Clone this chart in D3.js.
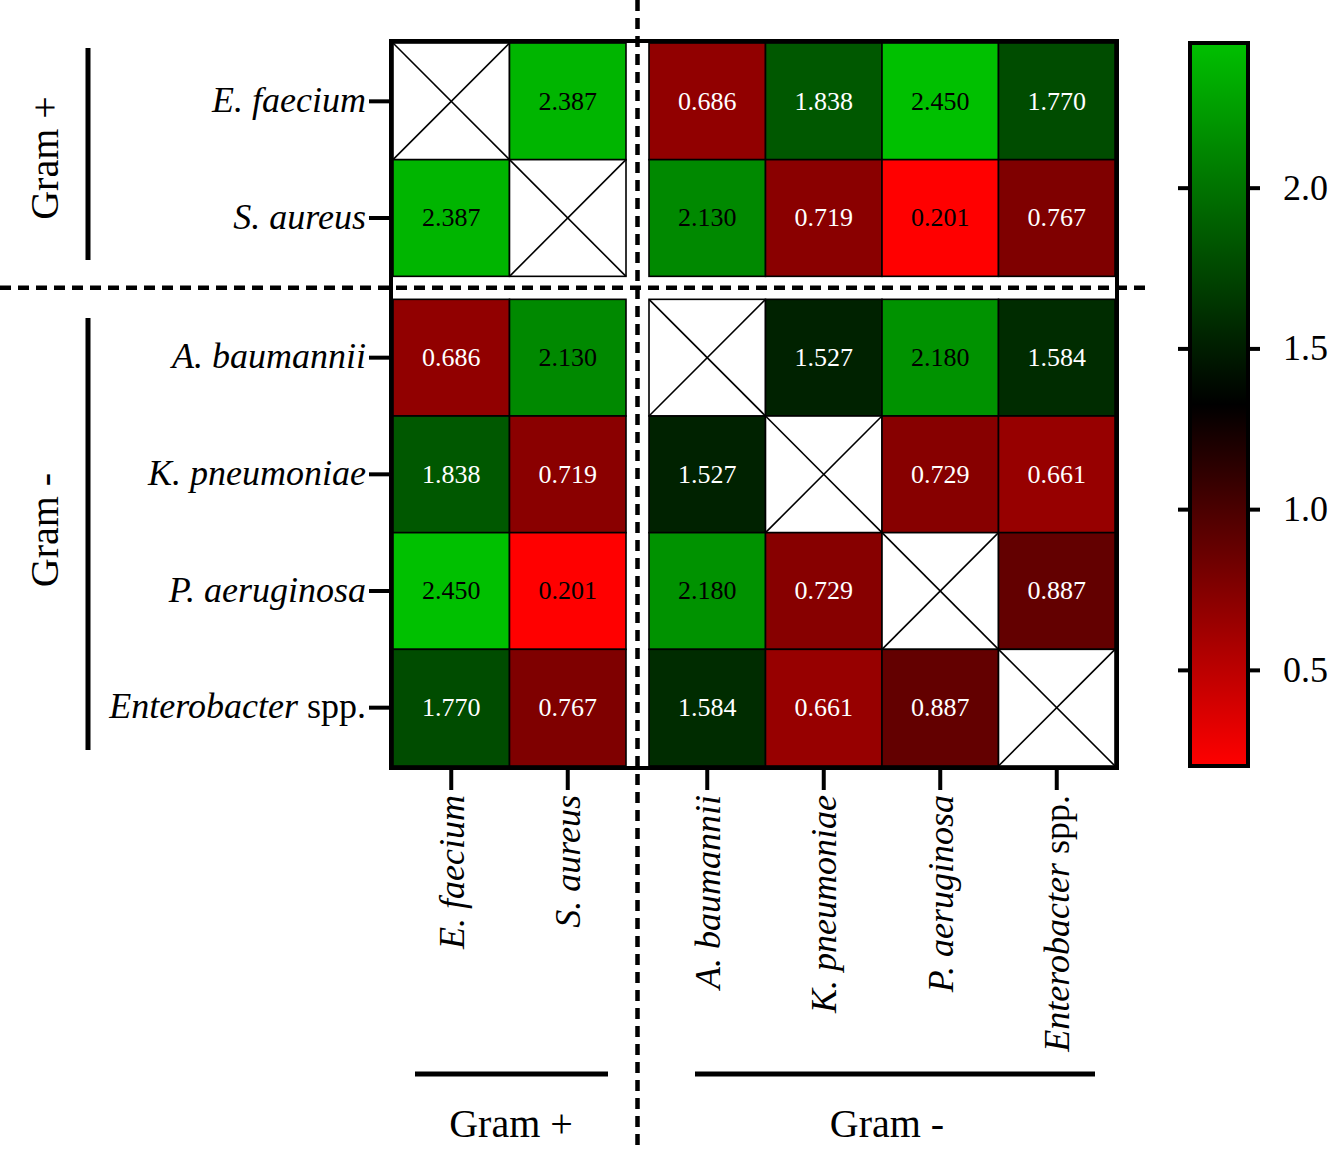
<!DOCTYPE html>
<html><head><meta charset="utf-8">
<script src="https://cdn.jsdelivr.net/npm/d3@7/dist/d3.min.js"></script>
<style>body{margin:0;background:#fff}</style>
</head><body><svg id="c" width="1332" height="1151"></svg>
<script>
// ---------- data ----------
const gramPositive = ["E. faecium", "S. aureus"];
const gramNegative = ["A. baumannii", "K. pneumoniae", "P. aeruginosa", "Enterobacter spp."];
const species = gramPositive.concat(gramNegative);
// FI values (row species x column species), null on the diagonal
const rowEfaecium   = [null, 2.387, 0.686, 1.838, 2.450, 1.770];
const rowSaureus    = [2.387, null, 2.130, 0.719, 0.201, 0.767];
const rowAbaumannii = [0.686, 2.130, null, 1.527, 2.180, 1.584];
const rowKpneumo    = [1.838, 0.719, 1.527, null, 0.729, 0.661];
const rowPaerug     = [2.450, 0.201, 2.180, 0.729, null, 0.887];
const rowEntero     = [1.770, 0.767, 1.584, 0.661, 0.887, null];
const matrix = [rowEfaecium, rowSaureus, rowAbaumannii, rowKpneumo, rowPaerug, rowEntero];
const colorTicks = [0.5, 1.0, 1.5, 2.0];
const colorMin = 0.201, colorMax = 2.450;
const groupNames = ["Gram +", "Gram -"];

// ---------- layout ----------
const svg = d3.select("#c");
const FONT = "'Liberation Serif','Times New Roman',Times,serif";
const L = 393, R = 1115, T = 43, B = 766, GAP = 23;
const cw = (R - L - GAP) / 6;
const ch = (B - T - GAP) / 6;
const xPos = d3.scaleBand().domain(gramPositive).range([L, L + 2 * cw]);
const xNeg = d3.scaleBand().domain(gramNegative).range([L + 2 * cw + GAP, R]);
const yPos = d3.scaleBand().domain(gramPositive).range([T, T + 2 * ch]);
const yNeg = d3.scaleBand().domain(gramNegative).range([T + 2 * ch + GAP, B]);
const xOf = s => gramPositive.includes(s) ? xPos(s) : xNeg(s);
const yOf = s => gramPositive.includes(s) ? yPos(s) : yNeg(s);

const mid = (colorMin + colorMax) / 2;
const color = d3.scaleLinear().domain([colorMin, mid, colorMax])
  .range(["#ff0000", "#000000", "#00c000"]).clamp(true);

// ---------- cells ----------
const cells = [];
species.forEach((r, i) => species.forEach((c, j) => cells.push({ r, c, v: matrix[i][j] })));

const gCells = svg.append("g");
const cg = gCells.selectAll("g.cell").data(cells).join("g").attr("class", "cell")
  .attr("transform", d => `translate(${xOf(d.c)},${yOf(d.r)})`);
cg.append("rect").attr("width", cw).attr("height", ch)
  .attr("fill", d => d.v == null ? "#fff" : color(d.v))
  .attr("stroke", "#000").attr("stroke-width", 1.6);
cg.filter(d => d.v == null).each(function () {
  const g = d3.select(this);
  g.append("line").attr("x1", 0).attr("y1", 0).attr("x2", cw).attr("y2", ch).attr("stroke", "#000").attr("stroke-width", 1.6);
  g.append("line").attr("x1", cw).attr("y1", 0).attr("x2", 0).attr("y2", ch).attr("stroke", "#000").attr("stroke-width", 1.6);
});
cg.filter(d => d.v != null).append("text")
  .attr("x", cw / 2).attr("y", ch / 2).attr("dy", "0.32em")
  .attr("text-anchor", "middle").attr("font-family", FONT).attr("font-size", 26)
  .attr("fill", d => d3.lab(color(d.v)).l > 45 ? "#000" : "#fff")
  .text(d => d3.format(".3f")(d.v));

// frame
svg.append("rect").attr("x", L - 2).attr("y", T - 2).attr("width", R - L + 4).attr("height", B - T + 4)
  .attr("fill", "none").attr("stroke", "#000").attr("stroke-width", 4);

// ---------- label helper ----------
function speciesLabel(textSel) {
  textSel.each(function (d) {
    const t = d3.select(this);
    t.text(null).attr("font-family", FONT).attr("font-size", 36).attr("fill", "#000");
    if (d.endsWith(" spp.")) {
      t.append("tspan").attr("font-style", "italic").text(d.replace(" spp.", ""));
      t.append("tspan").text(" spp.");
    } else {
      t.append("tspan").attr("font-style", "italic").text(d);
    }
  });
}
function styleAxis(g) {
  g.select(".domain").remove();
  g.selectAll(".tick line").attr("stroke", "#000").attr("stroke-width", 4);
}

// y axes
[yPos, yNeg].forEach(sc => {
  const g = svg.append("g").attr("transform", `translate(${L - 2},0)`)
    .call(d3.axisLeft(sc).tickSize(22).tickPadding(3));
  styleAxis(g);
  g.selectAll(".tick text").call(speciesLabel).attr("dy", "0.3em");
});
// x axes
[xPos, xNeg].forEach(sc => {
  const g = svg.append("g").attr("transform", `translate(0,${B + 2})`)
    .call(d3.axisBottom(sc).tickSize(22).tickPadding(5));
  styleAxis(g);
  g.selectAll(".tick text").call(speciesLabel)
    .attr("transform", "rotate(-90)").attr("text-anchor", "end")
    .attr("x", -27).attr("y", 0).attr("dy", "0.35em");
});

// ---------- dashed separators ----------
const sepX = L + 2 * cw + GAP / 2, sepY = T + 2 * ch + GAP / 2;
svg.append("line").attr("x1", sepX).attr("x2", sepX).attr("y1", 0).attr("y2", 1151)
  .attr("stroke", "#000").attr("stroke-width", 4.5).attr("stroke-dasharray", "11,7");
svg.append("line").attr("x1", 0).attr("x2", 1152).attr("y1", sepY).attr("y2", sepY)
  .attr("stroke", "#000").attr("stroke-width", 4.5).attr("stroke-dasharray", "11,7");

// ---------- group brackets ----------
const grp = svg.append("g");
// left
grp.append("line").attr("x1", 88).attr("x2", 88).attr("y1", 48).attr("y2", 260).attr("stroke", "#000").attr("stroke-width", 5);
grp.append("line").attr("x1", 88).attr("x2", 88).attr("y1", 318).attr("y2", 750).attr("stroke", "#000").attr("stroke-width", 5);
grp.append("text").attr("transform", "translate(58,158) rotate(-90)").attr("text-anchor", "middle")
  .attr("font-family", FONT).attr("font-size", 40).text(groupNames[0]);
grp.append("text").attr("transform", "translate(58,530) rotate(-90)").attr("text-anchor", "middle")
  .attr("font-family", FONT).attr("font-size", 40).text(groupNames[1]);
// bottom
grp.append("line").attr("x1", 415).attr("x2", 608).attr("y1", 1074).attr("y2", 1074).attr("stroke", "#000").attr("stroke-width", 5);
grp.append("line").attr("x1", 695).attr("x2", 1095).attr("y1", 1074).attr("y2", 1074).attr("stroke", "#000").attr("stroke-width", 5);
grp.append("text").attr("x", 511).attr("y", 1137).attr("text-anchor", "middle")
  .attr("font-family", FONT).attr("font-size", 40).text(groupNames[0]);
grp.append("text").attr("x", 887).attr("y", 1137).attr("text-anchor", "middle")
  .attr("font-family", FONT).attr("font-size", 40).text(groupNames[1]);

// ---------- colour bar ----------
const cbX = 1190, cbW = 58;
const cbScale = d3.scaleLinear().domain([colorMin, colorMax]).range([B, T]);
const defs = svg.append("defs");
const grad = defs.append("linearGradient").attr("id", "cbGrad")
  .attr("x1", 0).attr("y1", 1).attr("x2", 0).attr("y2", 0);
d3.range(0, 1.0001, 0.05).forEach(t => {
  grad.append("stop").attr("offset", t).attr("stop-color", color(colorMin + t * (colorMax - colorMin)));
});
svg.append("rect").attr("x", cbX).attr("y", T).attr("width", cbW).attr("height", B - T)
  .attr("fill", "url(#cbGrad)").attr("stroke", "#000").attr("stroke-width", 4);
const gr = svg.append("g").attr("transform", `translate(${cbX + cbW + 2},0)`)
  .call(d3.axisRight(cbScale).tickValues(colorTicks).tickFormat(d3.format(".1f")).tickSize(10).tickPadding(23));
styleAxis(gr);
gr.selectAll(".tick text").attr("font-family", FONT).attr("font-size", 36).attr("fill", "#000");
const gl = svg.append("g").attr("transform", `translate(${cbX - 2},0)`)
  .call(d3.axisLeft(cbScale).tickValues(colorTicks).tickFormat("").tickSize(10));
styleAxis(gl);
</script>
</body></html>
